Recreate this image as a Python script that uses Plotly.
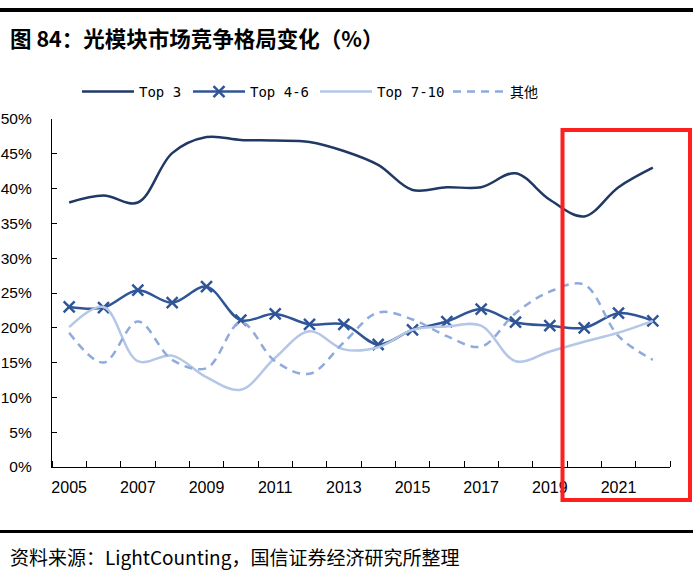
import plotly.graph_objects as go

years = list(range(2005, 2023))
top3 = [38.0, 39.0, 38.0, 45.1, 47.4, 47.0, 46.9, 46.7, 45.4, 43.4, 39.8, 40.2, 40.2, 42.2, 38.4, 36.0, 40.2, 43.0]
top4_6 = [23.0, 22.9, 25.4, 23.6, 25.9, 21.1, 22.0, 20.5, 20.5, 17.6, 19.7, 20.9, 22.7, 20.8, 20.3, 20.0, 22.1, 21.0]
top7_10 = [20.1, 23.0, 15.2, 16.0, 12.9, 11.1, 15.7, 19.5, 16.9, 17.2, 19.7, 20.2, 20.3, 15.2, 16.6, 18.0, 19.3, 21.0]
others = [19.3, 15.0, 20.9, 15.4, 14.2, 20.8, 15.2, 13.4, 17.9, 22.2, 21.2, 18.8, 17.3, 22.1, 25.2, 26.2, 18.8, 15.4]

series_names = ["Top 3", "Top 4-6", "Top 7-10", "其他"]
year_labels = [str(y) for y in range(2005, 2022, 2)]
y_ticks = [0, 5, 10, 15, 20, 25, 30, 35, 40, 45, 50]
y_tick_labels = [f"{v}%" for v in y_ticks]

title_text = "图 84：光模块市场竞争格局变化（%）"
source_text = "资料来源：LightCounting，国信证券经济研究所整理"

W, H = 693, 581
L, R, T, B = 52, 670, 119, 467  # plot area pixel box
pw, ph = R - L, B - T

def px(x):
    return (x - L) / pw

def py(y):
    return (B - y) / ph

legend_font = dict(family="DejaVu Sans Mono, Noto Sans CJK SC", size=14, color="#000")
legend_starts = [77, 188, 315, 448]
legend_keys = ["legend", "legend2", "legend3", "legend4"]

fig = go.Figure()
fig.add_trace(go.Scatter(x=years, y=top3, name=series_names[0], mode="lines", legend=legend_keys[0],
                         line=dict(color="#1F3864", width=2.5, shape="spline", smoothing=1.0)))
fig.add_trace(go.Scatter(x=years, y=top4_6, name=series_names[1], mode="lines+markers", legend=legend_keys[1],
                         line=dict(color="#2F5597", width=2.5, shape="spline", smoothing=1.0),
                         marker=dict(symbol="x-thin", size=11, line=dict(color="#2F5597", width=2.5))))
fig.add_trace(go.Scatter(x=years, y=top7_10, name=series_names[2], mode="lines", legend=legend_keys[2],
                         line=dict(color="#B4C7E7", width=2.5, shape="spline", smoothing=1.0)))
fig.add_trace(go.Scatter(x=years, y=others, name=series_names[3], mode="lines", legend=legend_keys[3],
                         line=dict(color="#8FAADC", width=2.5, shape="spline", smoothing=1.0, dash="8px,6px")))

legends = {}
for key, xs in zip(legend_keys, legend_starts):
    legends[key] = dict(orientation="h", x=px(xs), y=py(92), xanchor="left", yanchor="middle",
                        font=legend_font, bgcolor="rgba(0,0,0,0)", itemwidth=52)

fig.update_layout(
    width=W, height=H,
    margin=dict(l=L, r=W - R, t=T, b=H - B, pad=0),
    paper_bgcolor="white", plot_bgcolor="white",
    font=dict(family="Liberation Sans, Arial, sans-serif", color="#000000", size=16),
    showlegend=True,
    xaxis=dict(range=[2004.5, 2022.5], tickvals=list(range(2005, 2022, 2)), ticktext=year_labels,
               ticks="", showline=True, linecolor="#000", linewidth=1.3, showgrid=False, zeroline=False,
               tickfont=dict(size=16), ticklabelstandoff=6, automargin=False,
               minor=dict(tickvals=[y + 0.5 for y in range(2004, 2023)], ticks="inside", ticklen=6,
                          tickcolor="#000", tickwidth=1.3, showgrid=False)),
    yaxis=dict(range=[0, 50], tickvals=y_ticks, ticktext=y_tick_labels, ticks="inside", ticklen=5,
               tickcolor="#000", tickwidth=1.3, showline=True, linecolor="#000", linewidth=1.3,
               showgrid=False, zeroline=False, tickfont=dict(size=15.5), ticklabelstandoff=16,
               automargin=False),
    shapes=[
        dict(type="line", xref="paper", yref="paper", x0=px(0), x1=px(W), y0=py(10), y1=py(10),
             line=dict(color="#000", width=4)),
        dict(type="line", xref="paper", yref="paper", x0=px(0), x1=px(W), y0=py(531.5), y1=py(531.5),
             line=dict(color="#000", width=3)),
        dict(type="rect", xref="paper", yref="paper", x0=px(562.5), x1=px(690), y0=py(500), y1=py(130),
             line=dict(color="#FF1F1F", width=4)),
    ],
    annotations=[
        dict(text=f"<b>{title_text}</b>", xref="paper", yref="paper", x=px(8), y=py(38),
             xanchor="left", yanchor="middle", showarrow=False,
             font=dict(family="Noto Sans CJK SC", size=21.5, color="#000")),
        dict(text=source_text, xref="paper", yref="paper", x=px(8), y=py(556),
             xanchor="left", yanchor="middle", showarrow=False,
             font=dict(family="Noto Sans CJK SC", size=19, color="#000")),
    ],
    **legends,
)

fig.write_html("out.html", config={"displayModeBar": False},
               post_script="document.body.style.margin='0';")
